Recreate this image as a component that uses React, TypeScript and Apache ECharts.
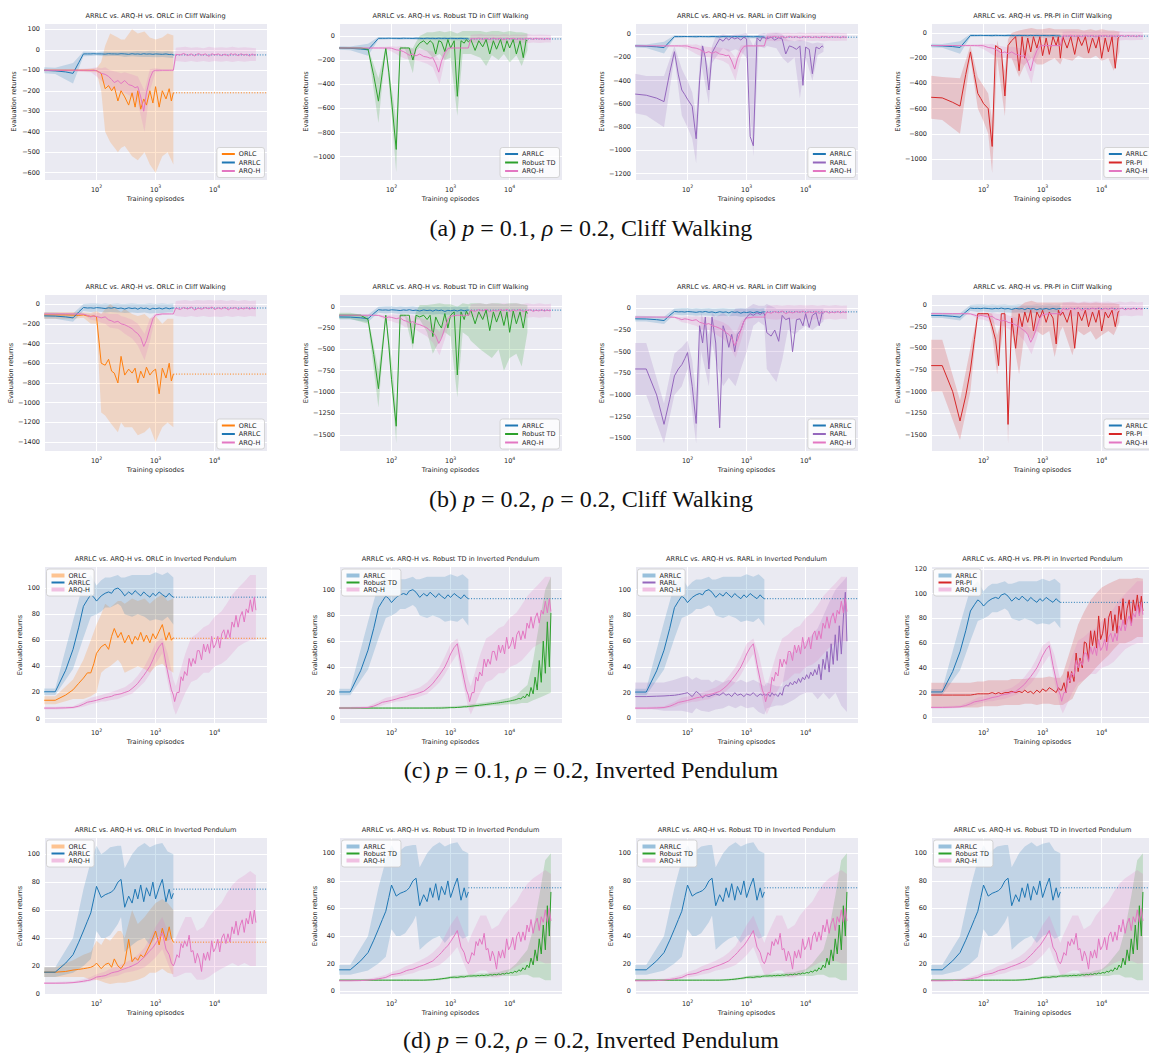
import React, { useEffect, useRef } from 'react';
import * as echarts from 'echarts';

const W = 1149;
const H = 1053;

// ---------- x sampling grids (training episodes) ----------
const X_SHORT = [13, 20, 30, 40, 50, 60, 70, 80, 90, 100, 120, 140, 160, 180, 200, 230, 260, 300, 350, 400, 450, 500, 560, 630, 700, 800, 900, 1000, 1150, 1300, 1500, 1700, 1850, 2000];
const X_MID = [...X_SHORT, 2200, 2600, 3000, 3500, 4000, 4600, 5300, 6000, 7000, 8000, 9000, 10000, 11500, 13000, 15000, 17000, 19000, 20000];
const X_LONG = [...X_MID, 22500, 25000, 28000, 31000, 35000, 39000, 43000, 47000, 50000];
const X_TAIL = [2100, 2300, 2500, 2700, 2900, 3100, 3400, 3700, 4000, 4300, 4700, 5100, 5500, 6000, 6500, 7000, 7600, 8200, 8900, 9600, 10400, 11300, 12200, 13200, 14300, 15500, 16800, 18200, 19700, 21300, 23000, 25000, 27000, 29300, 31700, 34300, 37100, 40200, 43500, 47000, 50000];
const X_DENSE = [...X_SHORT, ...X_TAIL];
const B_SHORT = [13, 20, 40, 60, 80, 100, 120, 140, 170, 230, 260, 300, 400, 500, 650, 800, 1000, 1300, 1600, 2000];
const B_MID = [...B_SHORT, 2200, 3200, 4000, 5000, 6500, 8000, 10000, 13000, 16000, 20000];
const B_LONG = [...B_MID, 25000, 32000, 40000, 50000];
const FINAL_X = [2000, 77000];

// ---------- Row (a): p = 0.1, Cliff Walking ----------
const R1_ARRLC = [-100, -103, -108, -115, -63, -20, -20, -20, -19, -20, -20, -21, -19, -20, -20, -21, -19, -20, -22, -19, -21, -20, -22, -19, -21, -20, -22, -20, -21, -22, -20, -23, -22, -25];
const R1_ARRLC_BAND = [[-115, -85], [-118, -88], [-165, -65], [-32, -8], [-30, -10], [-28, -12], [-30, -10], [-32, -8], [-30, -10], [-30, -10], [-32, -8], [-35, -8], [-32, -8], [-34, -6], [-35, -8], [-35, -5], [-36, -6], [-35, -8], [-38, -6], [-40, -10]];
const R1_ARQH = [-100, -100, -100, -100, -100, -100, -100, -101, -100, -102, -115, -120, -130, -145, -160, -150, -165, -150, -170, -175, -185, -180, -230, -300, -210, -140, -105, -100, -100, -100, -100, -100, -100, -100,
  -22, -25, -18, -28, -20, -30, -18, -26, -20, -32, -19, -25, -20, -28, -21, -30, -18, -24,
  -20, -29, -19, -26, -22, -30, -20, -27, -24];
const R1_ARQH_BAND = [[-105, -95], [-105, -95], [-105, -95], [-108, -92], [-110, -90], [-130, -85], [-150, -90], [-170, -85], [-190, -100], [-200, -110], [-205, -115], [-210, -110], [-230, -120], [-260, -130], [-400, -200], [-200, -95], [-110, -90], [-105, -95], [-105, -95], [-105, -95],
  [-55, 10], [-60, 15], [-55, 10], [-60, 12], [-55, 8], [-60, 15], [-55, 10], [-58, 12], [-55, 10], [-60, 15],
  [-55, 10], [-58, 12], [-55, 10], [-55, 8]];
const R1_ORLC = [-100, -100, -100, -100, -100, -100, -100, -100, -100, -102, -115, -190, -175, -200, -180, -250, -200, -230, -270, -210, -280, -200, -290, -240, -270, -200, -260, -180, -280, -200, -240, -190, -250, -210];
const R1_ORLC_BAND = [[-105, -95], [-105, -95], [-105, -95], [-105, -95], [-108, -92], [-110, -90], [-200, -60], [-400, 20], [-450, 80], [-500, 60], [-480, 50], [-470, 50], [-520, 100], [-540, 80], [-500, 90], [-560, 60], [-600, 50], [-520, 60], [-500, 80], [-560, 70]];
const R1_RTD = [-100, -100, -100, -110, -330, -540, -300, -100, -300, -530, -940, -100, -100, -100, -100, -200, -100, -60, -40, -70, -40, -60, -150, -40, -50, -130, -30, -100, -40, -500, -40, -60, -30, -50,
  -30, -120, -40, -90, -30, -150, -40, -110, -30, -130, -40, -100, -30, -150, -40, -180, -35, -40];
const R1_RTD_BAND = [[-105, -95], [-105, -95], [-120, -100], [-720, -350], [-110, -90], [-650, -420], [-1130, -700], [-110, -90], [-110, -90], [-310, -100], [-120, -50], [-100, 0], [-130, 30], [-180, 30], [-150, 40], [-200, 30], [-180, 40], [-660, 20], [-150, 40], [-150, 40],
  [-150, 40], [-180, 40], [-250, 30], [-160, 40], [-200, 40], [-150, 30], [-220, 40], [-160, 30], [-250, 30], [-120, 20]];
const R1_RARL = [-515, -525, -550, -580, -330, -150, -350, -480, -520, -560, -620, -900, -400, -100, -200, -480, -160, -100, -40, -60, -30, -50, -25, -40, -30, -50, -25, -40, -880, -960, -30, -60, -25, -30,
  -40, -25, -50, -30, -40, -170, -100, -110, -130, -100, -440, -110, -130, -340, -110, -125, -100, -110];
const R1_RARL_BAND = [[-680, -340], [-700, -360], [-800, -360], [-200, -100], [-700, -300], [-800, -400], [-900, -500], [-1110, -700], [-250, -80], [-600, -300], [-250, -100], [-200, -20], [-120, 0], [-150, -10], [-130, 0], [-150, 0], [-200, 10], [-1050, -100], [-100, 0], [-120, 10],
  [-100, 0], [-120, 10], [-200, 0], [-250, -50], [-200, -60], [-550, -50], [-200, -60], [-400, -80], [-180, -70], [-150, -80]];
const R1_PRPI = [-510, -515, -550, -580, -330, -150, -330, -480, -520, -560, -600, -900, -100, -120, -130, -500, -100, -60, -30, -300, -30, -200, -40, -150, -30, -120, -30, -180, -40, -170, -30, -100, -30, -200,
  -30, -120, -30, -170, -30, -100, -30, -160, -40, -120, -30, -200, -40, -150, -30, -280, -40, -30];
const R1_PRPI_BAND = [[-680, -340], [-690, -350], [-800, -360], [-200, -100], [-600, -350], [-700, -420], [-800, -480], [-1110, -700], [-200, -60], [-660, -300], [-200, -50], [-200, 0], [-350, 20], [-250, 30], [-200, 40], [-250, 30], [-250, 30], [-220, 40], [-200, 30], [-250, 30],
  [-200, 30], [-220, 30], [-180, 30], [-200, 20], [-200, 30], [-180, 20], [-220, 30], [-200, 20], [-300, 20], [-150, 10]];

// ---------- Row (b): p = 0.2, Cliff Walking ----------
const R2_ARRLC = [-120, -122, -130, -140, -80, -35, -40, -38, -42, -36, -40, -45, -38, -42, -35, -45, -40, -50, -38, -45, -40, -52, -38, -46, -40, -55, -42, -48, -40, -50, -38, -48, -42, -40];
const R2_ARRLC_BAND = [[-150, -85], [-150, -88], [-180, -95], [-70, 0], [-80, 5], [-75, 5], [-80, 0], [-85, 5], [-80, 0], [-85, 5], [-85, 0], [-90, 0], [-85, 5], [-90, 0], [-85, 0], [-95, 5], [-90, 0], [-90, 5], [-85, 0], [-85, 5]];
const R2_ARQH = [-100, -100, -100, -100, -100, -102, -115, -130, -120, -125, -140, -130, -160, -170, -185, -175, -200, -210, -230, -250, -280, -300, -340, -430, -370, -250, -150, -110, -105, -100, -100, -100, -100, -100,
  -40, -55, -35, -50, -30, -60, -40, -52, -35, -48, -30, -55, -38, -50, -32, -58, -40, -45,
  -35, -55, -40, -50, -35, -52, -38, -48, -42];
const R2_ARQH_BAND = [[-105, -95], [-105, -95], [-105, -95], [-110, -95], [-160, -100], [-170, -90], [-190, -95], [-200, -90], [-240, -100], [-250, -100], [-270, -120], [-300, -130], [-350, -160], [-420, -200], [-570, -300], [-380, -150], [-130, -90], [-110, -90], [-105, -95], [-105, -95],
  [-120, 30], [-130, 40], [-120, 30], [-130, 40], [-120, 35], [-130, 40], [-125, 35], [-130, 40], [-120, 30], [-130, 40],
  [-120, 30], [-130, 40], [-120, 30], [-125, 35]];
const R2_ORLC = [-110, -110, -110, -112, -115, -110, -120, -125, -120, -130, -600, -620, -560, -680, -700, -800, -530, -720, -660, -700, -650, -800, -680, -750, -640, -720, -680, -660, -910, -650, -750, -600, -780, -710];
const R2_ORLC_BAND = [[-150, -80], [-150, -80], [-150, -80], [-140, -85], [-200, -90], [-200, -70], [-1100, -100], [-1130, -50], [-1200, 0], [-1300, -60], [-1200, -80], [-1250, -50], [-1250, -100], [-1330, -120], [-1300, -100], [-1250, -150], [-1400, -120], [-1250, -200], [-1200, -150], [-1250, -150]];
const R2_RTD = [-100, -100, -100, -150, -560, -960, -500, -100, -450, -850, -1400, -100, -100, -100, -100, -430, -100, -120, -100, -150, -100, -350, -120, -200, -250, -80, -250, -100, -60, -800, -60, -150, -50, -100,
  -40, -200, -60, -150, -40, -280, -60, -180, -50, -220, -60, -300, -50, -200, -60, -250, -50, -80];
const R2_RTD_BAND = [[-140, -70], [-140, -70], [-200, -110], [-1180, -740], [-120, -90], [-900, -600], [-1600, -1200], [-120, -90], [-120, -90], [-500, -200], [-150, -60], [-150, 20], [-300, 20], [-550, 30], [-400, 40], [-300, 30], [-350, 30], [-1060, 0], [-300, 40], [-350, 30],
  [-400, 40], [-500, 40], [-550, 30], [-600, 40], [-500, 40], [-750, 30], [-600, 40], [-550, 40], [-700, 30], [-300, 20]];
const R2_RARL = [-700, -700, -1000, -1340, -1050, -780, -700, -650, -580, -510, -900, -1330, -200, -400, -100, -700, -100, -400, -1380, -200, -300, -450, -300, -500, -300, -250, -150, -100, -60, -80, -50, -70, -50, -60,
  -280, -320, -250, -380, -80, -130, -110, -500, -130, -120, -200, -60, -220, -80, -50, -200, -50, -60];
const R2_RARL_BAND = [[-1000, -400], [-1000, -400], [-1560, -1100], [-1000, -520], [-900, -450], [-700, -370], [-1200, -600], [-1560, -1000], [-500, -50], [-900, -300], [-400, -50], [-600, -100], [-900, -50], [-800, -100], [-900, 0], [-700, 0], [-500, 0], [-200, 50], [-150, 30], [-200, 30],
  [-700, 50], [-850, 0], [-600, 0], [-250, 0], [-300, 0], [-250, 0], [-200, 0], [-250, 0], [-200, 0], [-150, 0]];
const R2_PRPI = [-700, -700, -1000, -1340, -1050, -750, -400, -100, -100, -100, -100, -250, -400, -700, -100, -100, -1380, -150, -500, -100, -250, -80, -200, -60, -300, -80, -150, -60, -200, -80, -150, -450, -60, -120,
  -80, -200, -60, -500, -80, -180, -60, -250, -80, -200, -60, -300, -80, -150, -60, -250, -80, -70];
const R2_PRPI_BAND = [[-1000, -400], [-1000, -400], [-1560, -1100], [-1000, -500], [-120, -90], [-120, -90], [-130, -90], [-350, -100], [-800, -350], [-150, -50], [-1600, -1100], [-300, -50], [-800, -20], [-300, 30], [-400, 50], [-300, 30], [-350, 30], [-300, 30], [-600, 30], [-300, 30],
  [-250, 30], [-580, 30], [-300, 20], [-350, 30], [-300, 20], [-400, 30], [-350, 20], [-300, 20], [-350, 20], [-200, 10]];

// ---------- Row (c): p = 0.1, Inverted Pendulum ----------
const R3_ARRLC = [20.5, 20.5, 37, 53, 70, 86, 91, 95, 93, 90, 94, 96, 97, 96, 99, 100, 98, 94, 97, 95, 98, 96, 94, 97, 95, 93, 96, 94, 97, 95, 93, 96, 94, 93];
const R3_ARRLC_BAND = [[18, 23], [18, 23], [38, 75], [62, 104], [78, 110], [80, 102], [82, 106], [85, 108], [85, 108], [88, 110], [86, 108], [80, 108], [78, 110], [80, 110], [78, 110], [75, 110], [76, 112], [75, 110], [78, 112], [72, 108]];
const R3_ARQH = [8, 8, 8.2, 8.5, 9.5, 11, 12.5, 13, 13.5, 14, 15, 16, 16.5, 17, 18, 18.5, 19, 20, 21, 23, 25, 27, 30, 33, 36, 40, 45, 50, 55, 58, 42, 30, 22, 18,
  13, 20, 20, 32, 29, 36, 33, 46, 40, 46, 42, 52, 52, 45, 57, 51, 57, 50, 63, 54, 57, 63, 54, 65, 68, 61, 68, 62, 74, 70, 79, 70, 78, 82, 74, 84, 81, 91, 82, 93, 83];
const R3_ARQH_BAND = [[7, 9], [7, 9], [7.5, 9.5], [9, 13], [11, 16], [12, 17], [13, 18], [13, 19], [14, 20], [15, 22], [16, 23], [17, 24], [19, 28], [23, 33], [28, 40], [34, 48], [42, 58], [50, 62], [28, 50], [8, 30],
  [3, 25], [20, 50], [28, 62], [30, 65], [35, 70], [35, 72], [40, 78], [42, 82], [45, 88], [50, 95],
  [55, 100], [58, 105], [60, 110], [60, 110]];
const R3_ORLC = [14, 14, 18, 22, 27, 31, 35, 35, 42, 50, 55, 57, 53, 63, 69, 62, 66, 58, 64, 57, 63, 60, 66, 59, 64, 58, 65, 61, 67, 72, 60, 66, 60, 62];
const R3_ORLC_BAND = [[11, 17], [11, 17], [15, 30], [15, 45], [17, 60], [20, 72], [35, 80], [38, 88], [40, 85], [45, 90], [42, 90], [35, 88], [38, 92], [40, 90], [38, 92], [35, 88], [40, 92], [42, 95], [38, 90], [35, 92]];
const R3_RTD = [8, 8, 8, 8, 8, 8, 8, 8, 8, 8, 8, 8, 8, 8, 8, 8, 8, 8, 8, 8, 8, 8, 8, 8, 8, 8.1, 8.2, 8.3, 8.3, 8.5, 8.7, 9, 9, 9.2,
  9.3, 9.5, 9.7, 9.9, 10, 10.2, 10.4, 10.6, 10.8, 11, 11.2, 11.4, 11.6, 11.8, 12, 12.3, 12.5, 12.8, 13, 13.3, 13.6, 14, 14.3, 14.8, 15.5, 15, 17, 16, 19, 17, 24, 19, 32, 22, 45, 28, 60, 35, 75, 40, 82];
const R3_RTD_BAND = [[7.5, 8.5], [7.5, 8.5], [7.5, 8.5], [7.5, 8.5], [7.5, 8.5], [7.5, 8.5], [7.5, 8.5], [7.5, 8.5], [7.5, 8.5], [7.5, 8.5], [7.5, 8.5], [7.5, 8.5], [7.5, 8.7], [7.6, 8.8], [7.7, 9], [7.8, 9.2], [8, 9.5], [8, 9.8], [8.2, 10], [8.5, 10.5],
  [8.5, 11], [9, 12], [9.5, 12.5], [10, 13], [10, 14], [10.5, 15], [11, 16], [11, 18], [12, 22], [12, 26],
  [14, 45], [16, 75], [18, 100], [20, 110]];
const R3_RARL = [17, 17, 17.3, 17.5, 17.8, 18, 18.5, 19, 19.5, 20, 17, 21, 19, 16, 18, 17, 18, 19, 18, 20, 18, 19, 17, 20, 18, 19, 17, 19, 18, 20, 17, 19, 18, 19,
  18, 19, 17, 20, 18, 19, 17, 20, 18, 24, 26, 25, 28, 26, 29, 27, 31, 28, 32, 30, 34, 31, 36, 33, 38, 34, 42, 30, 46, 38, 52, 36, 58, 42, 65, 45, 72, 50, 78, 98, 60];
const R3_RARL_BAND = [[8, 28], [8, 28], [6, 28], [6, 30], [6, 32], [5, 33], [4, 30], [8, 32], [6, 30], [5, 30], [6, 28], [7, 30], [8, 28], [10, 30], [8, 28], [10, 30], [8, 28], [9, 30], [5, 28], [3, 25],
  [8, 28], [10, 25], [10, 25], [12, 50], [15, 52], [18, 55], [20, 60], [20, 65], [15, 70], [20, 80],
  [15, 90], [20, 100], [10, 105], [5, 110]];
const R3_PRPI = [18, 18, 18, 18, 18, 18, 18.5, 19, 19, 19, 19, 20, 19, 20, 19, 20, 20, 21, 20, 21, 20, 22, 20, 21, 19, 22, 20, 23, 21, 24, 22, 20, 24, 22,
  22, 28, 20, 37, 28, 37, 29, 52, 37, 48, 40, 61, 60, 46, 70, 58, 70, 56, 82, 63, 68, 80, 61, 81, 86, 70, 83, 68, 90, 79, 96, 75, 88, 95, 76, 95, 86, 99, 84, 98, 86];
const R3_PRPI_BAND = [[8, 28], [8, 28], [8, 28], [8, 28], [8, 29], [9, 29], [9, 30], [9, 30], [9, 30], [10, 30], [10, 30], [10, 31], [10, 31], [11, 31], [11, 32], [10, 32], [11, 32], [11, 33], [10, 32], [10, 32],
  [10, 35], [15, 60], [25, 75], [30, 85], [35, 95], [40, 100], [45, 105], [50, 108], [55, 110], [60, 112],
  [60, 112], [62, 112], [65, 113], [65, 112]];

// ---------- Row (d): p = 0.2, Inverted Pendulum ----------
const R4_ARRLC = [15.5, 15.5, 22, 28, 37, 45, 52, 58, 68, 77, 69, 71, 72, 73, 75, 80, 82, 62, 70, 65, 75, 68, 78, 66, 76, 70, 80, 68, 76, 82, 66, 75, 68, 72];
const R4_ARRLC_BAND = [[12, 19], [12, 19], [15, 40], [20, 75], [25, 95], [45, 106], [40, 100], [40, 102], [42, 105], [50, 106], [55, 106], [30, 90], [35, 100], [38, 105], [40, 108], [35, 105], [40, 107], [42, 108], [38, 102], [40, 100]];
const R4_ORLC = [15.5, 15.5, 16, 17, 17.5, 18, 18.5, 19, 20, 22, 18, 21, 22, 19, 25, 20, 18, 22, 39, 23, 26, 24, 28, 26, 30, 35, 40, 45, 35, 47, 38, 48, 40, 37];
const R4_ORLC_BAND = [[12, 19], [12, 19], [12, 24], [12, 28], [10, 30], [10, 38], [9, 35], [8, 40], [7, 38], [8, 45], [8, 45], [8, 40], [9, 60], [10, 50], [12, 55], [15, 60], [15, 65], [18, 68], [15, 65], [14, 60]];
const R4_ARQH = [7.6, 7.6, 7.7, 8, 8.5, 9, 9.5, 10, 11, 12, 12.5, 13, 14, 15, 15.5, 16, 17, 18, 19, 20, 21, 22, 24, 26, 28, 31, 33, 36, 40, 44, 32, 28, 22, 20,
  22, 28, 26, 36, 33, 38, 34, 42, 30, 31, 22, 29, 25, 16, 29, 24, 30, 24, 38, 30, 33, 39, 30, 40, 43, 36, 43, 37, 48, 43, 52, 42, 49, 53, 44, 54, 50, 59, 50, 60, 51];
const R4_ARQH_BAND = [[7, 8.5], [7, 8.5], [7.5, 9], [8, 10.5], [9, 12], [10, 14], [10.5, 15], [11, 16], [12, 18], [13, 20], [14, 21], [15, 22], [16, 25], [17, 28], [19, 33], [22, 40], [26, 48], [32, 55], [22, 45], [12, 35],
  [12, 40], [15, 55], [15, 55], [10, 45], [10, 48], [12, 55], [15, 60], [18, 65], [20, 72], [22, 78],
  [20, 82], [22, 85], [20, 88], [20, 85]];
const R4_RTD = [8, 8, 8, 8, 8, 8, 8, 8, 8, 8, 8, 8, 8, 8, 8, 8, 8, 8, 8, 8.1, 8.2, 8.3, 8.5, 8.7, 9, 9.3, 9.6, 10, 10.2, 10, 10.5, 10.3, 10.8, 11,
  11, 11, 11.2, 11, 11.4, 11.2, 11.6, 11.3, 11.8, 11.5, 12, 11.7, 12.2, 11.9, 12.5, 12.1, 12.8, 12.4, 13.2, 12.8, 13.6, 13.2, 14.5, 13.8, 15.5, 14.5, 17, 15.5, 19, 17, 24, 19, 30, 22, 38, 27, 48, 30, 62, 40, 72];
const R4_RTD_BAND = [[7.5, 8.5], [7.5, 8.5], [7.5, 8.5], [7.5, 8.5], [7.5, 8.5], [7.5, 8.5], [7.5, 8.5], [7.5, 8.5], [7.5, 8.5], [7.5, 8.5], [7.5, 8.5], [7.5, 8.5], [7.5, 8.7], [7.8, 9], [8, 9.5], [8.5, 10], [9, 11], [9, 11.5], [9.5, 12], [10, 12],
  [10, 12.5], [10, 13], [10, 13], [10.5, 13.5], [11, 14], [11, 15], [11, 16], [11, 20], [12, 25], [12, 30],
  [10, 45], [10, 70], [8, 95], [8, 100]];

// final-value reference lines (dotted), per row
const ARRLC_FINAL = [-25, -40, 93, 75];
const ORLC_FINAL = [-210, -710, 61.5, 37];

const CAPTIONS = [
  '(a) {i|p} = 0.1, {i|ρ} = 0.2, Cliff Walking',
  '(b) {i|p} = 0.2, {i|ρ} = 0.2, Cliff Walking',
  '(c) {i|p} = 0.1, {i|ρ} = 0.2, Inverted Pendulum',
  '(d) {i|p} = 0.2, {i|ρ} = 0.2, Inverted Pendulum',
];

const COLORS: Record<string, string> = {
  ARRLC: '#1f77b4', ORLC: '#ff7f0e', 'Robust TD': '#2ca02c', RARL: '#9467bd', 'PR-PI': '#d62728', 'ARQ-H': '#e377c2',
};

type S = { x: number[]; y: number[]; bx: number[]; band: number[][] };
const ROWS: Record<string, S>[] = [
  {
    ARRLC: { x: X_SHORT, y: R1_ARRLC, bx: B_SHORT, band: R1_ARRLC_BAND },
    'ARQ-H': { x: X_LONG, y: R1_ARQH, bx: B_LONG, band: R1_ARQH_BAND },
    ORLC: { x: X_SHORT, y: R1_ORLC, bx: B_SHORT, band: R1_ORLC_BAND },
    'Robust TD': { x: X_MID, y: R1_RTD, bx: B_MID, band: R1_RTD_BAND },
    RARL: { x: X_MID, y: R1_RARL, bx: B_MID, band: R1_RARL_BAND },
    'PR-PI': { x: X_MID, y: R1_PRPI, bx: B_MID, band: R1_PRPI_BAND },
  },
  {
    ARRLC: { x: X_SHORT, y: R2_ARRLC, bx: B_SHORT, band: R2_ARRLC_BAND },
    'ARQ-H': { x: X_LONG, y: R2_ARQH, bx: B_LONG, band: R2_ARQH_BAND },
    ORLC: { x: X_SHORT, y: R2_ORLC, bx: B_SHORT, band: R2_ORLC_BAND },
    'Robust TD': { x: X_MID, y: R2_RTD, bx: B_MID, band: R2_RTD_BAND },
    RARL: { x: X_MID, y: R2_RARL, bx: B_MID, band: R2_RARL_BAND },
    'PR-PI': { x: X_MID, y: R2_PRPI, bx: B_MID, band: R2_PRPI_BAND },
  },
  {
    ARRLC: { x: X_SHORT, y: R3_ARRLC, bx: B_SHORT, band: R3_ARRLC_BAND },
    'ARQ-H': { x: X_DENSE, y: R3_ARQH, bx: B_LONG, band: R3_ARQH_BAND },
    ORLC: { x: X_SHORT, y: R3_ORLC, bx: B_SHORT, band: R3_ORLC_BAND },
    'Robust TD': { x: X_DENSE, y: R3_RTD, bx: B_LONG, band: R3_RTD_BAND },
    RARL: { x: X_DENSE, y: R3_RARL, bx: B_LONG, band: R3_RARL_BAND },
    'PR-PI': { x: X_DENSE, y: R3_PRPI, bx: B_LONG, band: R3_PRPI_BAND },
  },
  {
    ARRLC: { x: X_SHORT, y: R4_ARRLC, bx: B_SHORT, band: R4_ARRLC_BAND },
    'ARQ-H': { x: X_DENSE, y: R4_ARQH, bx: B_LONG, band: R4_ARQH_BAND },
    ORLC: { x: X_SHORT, y: R4_ORLC, bx: B_SHORT, band: R4_ORLC_BAND },
    'Robust TD': { x: X_DENSE, y: R4_RTD, bx: B_LONG, band: R4_RTD_BAND },
  },
];

const ENV = ['Cliff Walking', 'Cliff Walking', 'Inverted Pendulum', 'Inverted Pendulum'];

// panel layout & axis limits
const COL_LEFT = [44, 339, 635, 931];
const ROW_TOP = [23, 294.5, 566.5, 837.5];
const PW = 223;
const PH = 157;
const CAP_Y = [228, 499, 770, 1040];

const PANELS = [
  { row: 0, col: 0, comp: 'ORLC', ymin: -636, ymax: 131, step: 100, gap: 26.5 },
  { row: 0, col: 1, comp: 'Robust TD', ymin: -1193, ymax: 107, step: 200, gap: 30 },
  { row: 0, col: 2, comp: 'RARL', ymin: -1255, ymax: 97, step: 200, gap: 30 },
  { row: 0, col: 3, comp: 'PR-PI', ymin: -1166, ymax: 79, step: 200, gap: 30 },
  { row: 1, col: 0, comp: 'ORLC', ymin: -1495, ymax: 97, step: 200, gap: 30 },
  { row: 1, col: 1, comp: 'Robust TD', ymin: -1696, ymax: 143, step: 250, gap: 30 },
  { row: 1, col: 2, comp: 'RARL', ymin: -1654, ymax: 161, step: 250, gap: 30 },
  { row: 1, col: 3, comp: 'PR-PI', ymin: -1693, ymax: 122, step: 250, gap: 30 },
  { row: 2, col: 0, comp: 'ORLC', ymin: -3.8, ymax: 116.5, step: 20, gap: 20.5 },
  { row: 2, col: 1, comp: 'Robust TD', ymin: -4, ymax: 118, step: 20, gap: 20.5 },
  { row: 2, col: 2, comp: 'RARL', ymin: -3.9, ymax: 118, step: 20, gap: 20.5 },
  { row: 2, col: 3, comp: 'PR-PI', ymin: -5, ymax: 122, step: 20, gap: 20.5 },
  { row: 3, col: 0, comp: 'ORLC', ymin: -0.5, ymax: 112, step: 20, gap: 20.5 },
  { row: 3, col: 1, comp: 'Robust TD', ymin: -2.4, ymax: 111.5, step: 20, gap: 20.5 },
  { row: 3, col: 2, comp: 'Robust TD', ymin: -2.4, ymax: 111.5, step: 20, gap: 20.5 },
  { row: 3, col: 3, comp: 'Robust TD', ymin: -2.4, ymax: 111.5, step: 20, gap: 20.5 },
];

const FONT = 'DejaVu Sans';
const TXT = '#262626';
const XMIN = 12.9;
const XMAX = 77000;

const zip = (xs: number[], ys: number[]) => {
  const n = Math.min(xs.length, ys.length);
  const out: number[][] = [];
  for (let i = 0; i < n; i++) out.push([xs[i], ys[i]]);
  return out;
};
// value-first rows: [y, x] so that stacking happens on the value dimension
const zipYX = (xs: number[], ys: number[]) => {
  const n = Math.min(xs.length, ys.length);
  const out: number[][] = [];
  for (let i = 0; i < n; i++) out.push([ys[i], xs[i]]);
  return out;
};

const fmtY = (step: number) => (v: number) => {
  const k = v / step;
  if (Math.abs(k - Math.round(k)) > 1e-6) return '';
  const n = Math.round(v);
  return n < 0 ? '\u2212' + Math.abs(n) : String(n);
};

const fmtX = (v: number) => {
  const e = Math.log10(v);
  const r = Math.round(e);
  if (Math.abs(e - r) > 1e-4) return '';
  return '{b|10}{s|' + r + '}';
};

function buildOption() {
  const grid: any[] = [];
  const xAxis: any[] = [];
  const yAxis: any[] = [];
  const series: any[] = [];
  const legend: any[] = [];
  const graphic: any[] = [];

  PANELS.forEach((p, i) => {
    const left = COL_LEFT[p.col];
    const top = ROW_TOP[p.row];
    grid.push({
      left, top, width: PW, height: PH, show: true, backgroundColor: '#EAEAF2', borderWidth: 0,
      containLabel: false, outerBoundsMode: 'none',
    });
    xAxis.push({
      type: 'log', logBase: 10, gridIndex: i, min: XMIN, max: XMAX,
      axisLine: { show: false }, axisTick: { show: false },
      splitLine: { show: true, lineStyle: { color: '#ffffff', width: 1 } },
      minorTick: { show: false }, minorSplitLine: { show: false },
      axisLabel: {
        show: true, interval: 0, margin: 4, formatter: fmtX, color: TXT, fontSize: 6.5, fontFamily: FONT,
        rich: {
          b: { fontSize: 6.5, fontFamily: FONT, color: TXT, lineHeight: 9, verticalAlign: 'bottom' },
          s: { fontSize: 4.6, fontFamily: FONT, color: TXT, lineHeight: 5, verticalAlign: 'top' },
        },
      },
      name: 'Training episodes', nameLocation: 'middle', nameGap: 15,
      nameTextStyle: { fontSize: 6.6, color: TXT, fontFamily: FONT },
    });
    yAxis.push({
      type: 'value', gridIndex: i, min: p.ymin, max: p.ymax, minInterval: p.step, maxInterval: p.step, splitNumber: 8,
      axisLine: { show: false }, axisTick: { show: false },
      splitLine: { show: true, lineStyle: { color: '#ffffff', width: 1 } },
      axisLabel: { margin: 4, formatter: fmtY(p.step), color: TXT, fontSize: 6.5, fontFamily: FONT },
      name: 'Evaluation returns', nameLocation: 'middle', nameGap: p.gap, nameRotate: 90,
      nameTextStyle: { fontSize: 6.6, color: TXT, fontFamily: FONT },
    });
    graphic.push({
      type: 'text', x: left + PW / 2, y: top - 7.5, silent: true,
      style: {
        text: 'ARRLC vs. ARQ-H vs. ' + p.comp + ' in ' + ENV[p.row],
        fontSize: 6.6, fontFamily: FONT, fill: TXT, align: 'center', verticalAlign: 'middle',
      },
    });

    const order = p.comp === 'ORLC' ? ['ORLC', 'ARRLC', 'ARQ-H'] : ['ARRLC', p.comp, 'ARQ-H'];
    const rowData = ROWS[p.row];
    order.forEach((key) => {
      const s = rowData[key];
      const c = COLORS[key];
      const st = 'band' + i + key;
      series.push({
        type: 'line', name: key + ' lower ' + i, xAxisIndex: i, yAxisIndex: i,
        data: zipYX(s.bx, s.band.map((b) => b[0])), encode: { x: 1, y: 0 },
        stack: st, stackStrategy: 'all',
        symbol: 'none', showSymbol: false, lineStyle: { width: 0, opacity: 0 }, silent: true,
      });
      series.push({
        type: 'line', name: key + ' spread ' + i, xAxisIndex: i, yAxisIndex: i,
        data: zipYX(s.bx, s.band.map((b) => b[1] - b[0])), encode: { x: 1, y: 0 },
        stack: st, stackStrategy: 'all',
        symbol: 'none', showSymbol: false, lineStyle: { width: 0, opacity: 0 },
        areaStyle: { color: c, opacity: 0.2 }, silent: true,
      });
      series.push({
        type: 'line', name: key, xAxisIndex: i, yAxisIndex: i, data: zip(s.x, s.y),
        symbol: 'none', showSymbol: false, lineStyle: { color: c, width: 1 }, itemStyle: { color: c }, silent: true,
      });
      if (key === 'ARRLC' || key === 'ORLC') {
        const f = key === 'ARRLC' ? ARRLC_FINAL[p.row] : ORLC_FINAL[p.row];
        series.push({
          type: 'line', name: key + ' final ' + i, xAxisIndex: i, yAxisIndex: i,
          data: zip(FINAL_X, [f, f]), symbol: 'none', showSymbol: false,
          lineStyle: { color: c, width: 1, type: [1, 1.7] }, silent: true,
        });
      }
    });

    const thick = p.row >= 2;
    const legendData = order.map((name, k) =>
      thick && k !== 1 ? { name, icon: 'rect', itemStyle: { opacity: 0.45 } } : { name });
    const lg: any = {
      orient: 'vertical', data: legendData, selectedMode: false,
      itemWidth: 13, itemHeight: thick ? 4 : 2, itemGap: thick ? 0 : 1.5,
      itemStyle: { opacity: 0 },
      textStyle: { fontSize: 6.5, color: TXT, fontFamily: FONT, padding: [0, 0, 0, -1] },
      backgroundColor: 'rgba(255,255,255,0.8)', borderColor: '#cccccc', borderWidth: 0.8, borderRadius: 2.5,
      padding: [3, 4, 3, 4],
    };
    if (p.row < 2) {
      lg.right = W - (left + PW - 2.5);
      lg.bottom = H - (top + PH - 2.5);
    } else {
      lg.left = left + 2.5;
      lg.top = top + 2.5;
    }
    legend.push(lg);
  });

  CAPTIONS.forEach((c, r) => {
    graphic.push({
      type: 'text', x: 591, y: CAP_Y[r], silent: true,
      style: {
        text: c, fontSize: 24, lineHeight: 21, fontFamily: 'Liberation Serif', fill: '#111', align: 'center', verticalAlign: 'middle',
        rich: { i: { fontStyle: 'italic', fontSize: 24, lineHeight: 21, fontFamily: 'Liberation Serif', fill: '#111' } },
      },
    });
  });

  return { animation: false, backgroundColor: '#ffffff', grid, xAxis, yAxis, series, legend, graphic };
}

export default function App() {
  const ref = useRef<HTMLDivElement>(null);
  useEffect(() => {
    if (!ref.current) return;
    const chart = echarts.init(ref.current, null, { renderer: 'svg', width: W, height: H });
    chart.setOption(buildOption() as any);
    return () => chart.dispose();
  }, []);
  return <div ref={ref} style={{ position: 'absolute', left: 0, top: 0, width: W, height: H, background: '#fff' }} />;
}
